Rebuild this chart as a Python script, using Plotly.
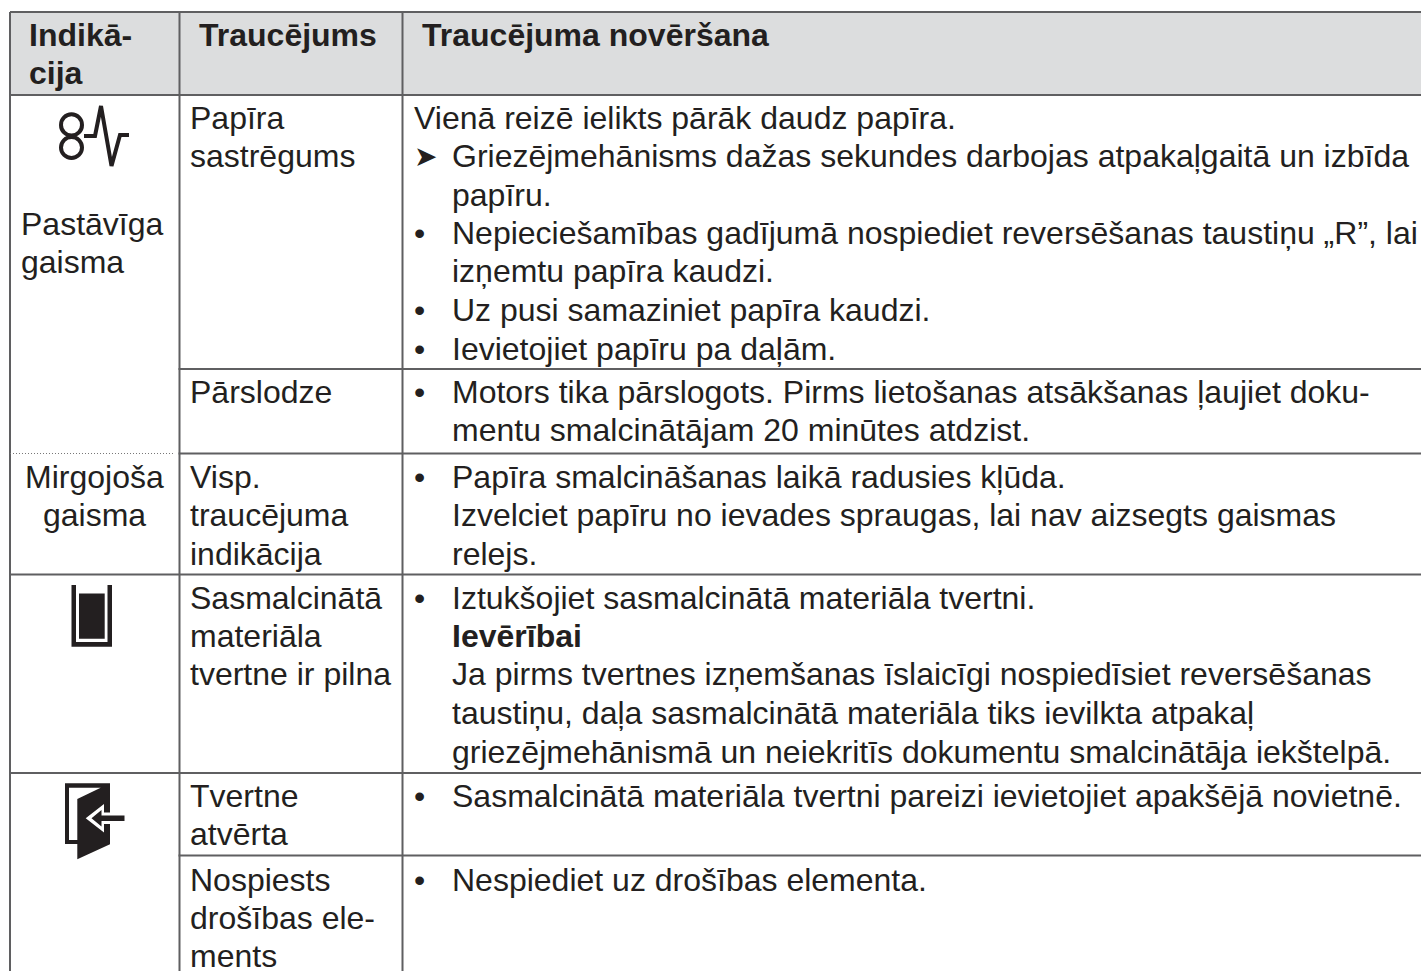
import plotly.graph_objects as go

W, H = 1421, 971
FONT = "Liberation Sans"
INK = "#231f20"
RULE = "#5f5f61"
HEADER_FILL = "#dcddde"

# Header labels: (text, x, line centre y)
header_cells = [
    ("Indikā-", 29, 35), ("cija", 29, 73),
    ("Traucējums", 199, 35),
    ("Traucējuma novēršana", 422, 35),
]
# Indication column
left_col = [
    ("Pastāvīga", 21, 224, "left"), ("gaisma", 21, 262, "left"),
    ("Mirgojoša", 94.5, 477, "center"), ("gaisma", 94.5, 515, "center"),
]
# Fault column
fault_col = [
    ("Papīra", 118), ("sastrēgums", 156),
    ("Pārslodze", 392),
    ("Visp.", 477), ("traucējuma", 515), ("indikācija", 554),
    ("Sasmalcinātā", 598), ("materiāla", 636), ("tvertne ir pilna", 674),
    ("Tvertne", 796), ("atvērta", 834),
    ("Nospiests", 880), ("drošības ele-", 918), ("ments", 956),
]
# Remedy column: (marker, text, line centre y, bold)
remedy_col = [
    ("", "Vienā reizē ielikts pārāk daudz papīra.", 118, False),
    ("➤", "Griezējmehānisms dažas sekundes darbojas atpakaļgaitā un izbīda", 156, False),
    ("", "papīru.", 195, False),
    ("•", "Nepieciešamības gadījumā nospiediet reversēšanas taustiņu „R”, lai", 233, False),
    ("", "izņemtu papīra kaudzi.", 271, False),
    ("•", "Uz pusi samaziniet papīra kaudzi.", 310, False),
    ("•", "Ievietojiet papīru pa daļām.", 349, False),
    ("•", "Motors tika pārslogots. Pirms lietošanas atsākšanas ļaujiet doku-", 392, False),
    ("", "mentu smalcinātājam 20 minūtes atdzist.", 430, False),
    ("•", "Papīra smalcināšanas laikā radusies kļūda.", 477, False),
    ("", "Izvelciet papīru no ievades spraugas, lai nav aizsegts gaismas", 515, False),
    ("", "relejs.", 554, False),
    ("•", "Iztukšojiet sasmalcinātā materiāla tvertni.", 598, False),
    ("", "Ievērībai", 636, True),
    ("", "Ja pirms tvertnes izņemšanas īslaicīgi nospiedīsiet reversēšanas", 674, False),
    ("", "taustiņu, daļa sasmalcinātā materiāla tiks ievilkta atpakaļ", 713, False),
    ("", "griezējmehānismā un neiekritīs dokumentu smalcinātāja iekštelpā.", 752, False),
    ("•", "Sasmalcinātā materiāla tvertni pareizi ievietojiet apakšējā novietnē.", 796, False),
    ("•", "Nespiediet uz drošības elementa.", 880, False),
]
first_line_only = {"Vienā reizē ielikts pārāk daudz papīra."}

# Table rules
col_x = [10, 179.5, 402.5]
top_y, header_y = 12, 95
full_rows = [574.5, 773]
inner_rows = [369, 453.5, 855.5]
dotted_row = 453.5

fig = go.Figure()
shapes = []


def line(x0, y0, x1, y1, dash="solid", width=2, color=RULE):
    shapes.append(dict(type="line", x0=x0, y0=y0, x1=x1, y1=y1,
                       line=dict(color=color, width=width, dash=dash)))


def path(d, fill=None, stroke=None, width=0):
    s = dict(type="path", path=d, line=dict(width=width, color=stroke or "rgba(0,0,0,0)"))
    if fill:
        s["fillcolor"] = fill
    shapes.append(s)


shapes.append(dict(type="rect", x0=col_x[0], x1=W, y0=top_y, y1=header_y,
                   fillcolor=HEADER_FILL, line=dict(width=0), layer="below"))
line(col_x[0], top_y, W, top_y)
line(col_x[0], header_y, W, header_y)
for x in col_x:
    line(x, top_y, x, H)
for y in full_rows:
    line(col_x[0], y, W, y)
for y in inner_rows:
    line(col_x[1] - 1, y, W, y)
line(col_x[0], dotted_row, col_x[1] - 5, dotted_row, dash="1px,2px", width=1, color="#777777")

# Icon: paper jam
shapes.append(dict(type="circle", x0=61, x1=82, y0=114.3, y1=135.5, line=dict(color=INK, width=4)))
shapes.append(dict(type="circle", x0=61, x1=82, y0=137, y1=158, line=dict(color=INK, width=4)))
path("M84,136 L95,136 L101,106 L111.5,166 L120,135 L129,135", stroke=INK, width=4)

# Icon: full bin
path("M71.5,585 L76,585 L76,642 L107.5,642 L107.5,585 L112,585 L112,646.7 L71.5,646.7 Z", fill=INK)
path("M79,593.5 L104.7,593.5 L104.7,638.7 L79,638.7 Z", fill=INK)

# Icon: open bin door
path("M65,783.3 L110,783.3 L110,844.3 L77.3,859.3 L77.3,844 L65,844 Z", fill=INK)
path("M69,787.7 L100.7,787.7 L77.3,799 L77.3,840 L69,840 Z", fill="#ffffff")
path("M85.7,818.3 L104,804 L104,812.5 L112,812.5 L112,824 L104,824 L104,832.5 Z", fill="#ffffff")
path("M91.5,818.3 L101.5,810 L101.5,815.5 L124.5,815.5 L124.5,821 L101.5,821 L101.5,826.5 Z", fill=INK)


annotations = []


def text(s, x, y, anchor="left", bold=False, size=32, family=FONT):
    annotations.append(dict(
        text=f"<b>{s}</b>" if bold else s, x=x, y=y, xref="x", yref="y",
        xanchor=anchor, yanchor="middle", showarrow=False, borderpad=0, borderwidth=0,
        font=dict(family=family, size=size, color=INK)))


for s, x, y in header_cells:
    text(s, x, y, bold=True)
for s, x, y, a in left_col:
    text(s, x, y, a)
for s, y in fault_col:
    text(s, 190, y)
for marker, s, y, bold in remedy_col:
    x = 414 if s in first_line_only else 452
    text(s, x, y, bold=bold)
    if marker == "➤":
        text(marker, 414, y, family="DejaVu Sans", size=28)
    elif marker:
        text(marker, 414, y)

fig.update_layout(
    width=W, height=H, margin=dict(l=0, r=0, t=0, b=0),
    paper_bgcolor="#ffffff", plot_bgcolor="#ffffff",
    xaxis=dict(range=[0, W], visible=False, fixedrange=True),
    yaxis=dict(range=[H, 0], visible=False, fixedrange=True),
    shapes=shapes, annotations=annotations, showlegend=False,
)
fig.write_html("out.html", config=dict(displayModeBar=False),
               post_script="document.body.style.margin='0';document.body.style.overflow='hidden';")
